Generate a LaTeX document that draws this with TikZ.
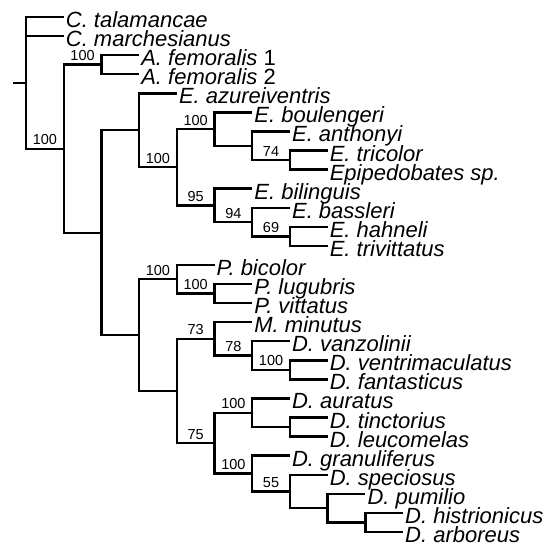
\documentclass[tikz,border=0pt]{standalone}
\usepackage{fontspec}
\setmainfont{Liberation Sans}
\begin{document}
\begin{tikzpicture}[x=1pt,y=-1pt]
        \tikzset{
          branch/.style={black,line width=2.4pt},
          taxon/.style={anchor=base west,yshift=-10.5pt,inner xsep=2pt,inner ysep=0pt,
            text height=14pt,text depth=3pt,
            font=\fontsize{22}{22}\selectfont\itshape},
          boot/.style={above,pos=0.75,inner sep=2.5pt,
            font=\fontsize{14.5}{14.5}\selectfont}
        }
\useasboundingbox (0,0) rectangle (553,547);

        %TAXA
        \path (63.7,17.0) coordinate (tal) node[taxon] (tal-t) {C. talamancae};
        \path (63.7,36.1) coordinate (mar) node[taxon] (mar-t) {C. marchesianus};
        \path (139.1,55.1) coordinate (af1) node[taxon] (af1-t) {A. femoralis \upshape 1};
        \path (139.1,74.2) coordinate (af2) node[taxon] (af2-t) {A. femoralis \upshape 2};
        \path (176.8,93.3) coordinate (azu) node[taxon] (azu-t) {E. azureiventris};
        \path (252.2,112.4) coordinate (bou) node[taxon] (bou-t) {E. boulengeri};
        \path (289.9,131.4) coordinate (ant) node[taxon] (ant-t) {E. anthonyi};
        \path (327.6,150.5) coordinate (tri) node[taxon] (tri-t) {E. tricolor};
        \path (327.6,169.6) coordinate (epi) node[taxon] (epi-t) {Epipedobates sp.};
        \path (252.2,188.6) coordinate (bil) node[taxon] (bil-t) {E. bilinguis};
        \path (289.9,207.7) coordinate (bas) node[taxon] (bas-t) {E. bassleri};
        \path (327.6,226.8) coordinate (hah) node[taxon] (hah-t) {E. hahneli};
        \path (327.6,245.8) coordinate (trv) node[taxon] (trv-t) {E. trivittatus};
        \path (214.5,264.9) coordinate (bic) node[taxon] (bic-t) {P. bicolor};
        \path (252.2,284.0) coordinate (lug) node[taxon] (lug-t) {P. lugubris};
        \path (252.2,303.1) coordinate (vit) node[taxon] (vit-t) {P. vittatus};
        \path (252.2,322.1) coordinate (mnt) node[taxon] (mnt-t) {M. minutus};
        \path (289.9,341.2) coordinate (van) node[taxon] (van-t) {D. vanzolinii};
        \path (327.6,360.3) coordinate (ven) node[taxon] (ven-t) {D. ventrimaculatus};
        \path (327.6,379.3) coordinate (fan) node[taxon] (fan-t) {D. fantasticus};
        \path (289.9,398.4) coordinate (aur) node[taxon] (aur-t) {D. auratus};
        \path (327.6,417.5) coordinate (tin) node[taxon] (tin-t) {D. tinctorius};
        \path (327.6,436.5) coordinate (leu) node[taxon] (leu-t) {D. leucomelas};
        \path (289.9,455.6) coordinate (gra) node[taxon] (gra-t) {D. granuliferus};
        \path (327.6,474.7) coordinate (spe) node[taxon] (spe-t) {D. speciosus};
        \path (365.3,493.8) coordinate (pum) node[taxon] (pum-t) {D. pumilio};
        \path (403.0,512.8) coordinate (his) node[taxon] (his-t) {D. histrionicus};
        \path (403.0,531.9) coordinate (arb) node[taxon] (arb-t) {D. arboreus};

        %INNER NODES
        \coordinate (stem) at (13,82.85);
        \coordinate (root) at (26,82.85);
        \coordinate (nall) at (63.7,148.7);
        \coordinate (nfem) at (101.4,64.65);
        \coordinate (nmain) at (101.4,232.7);
        \coordinate (nepi) at (139.1,130.25);
        \coordinate (nepi2) at (176.8,167.2);
        \coordinate (nbou) at (214.5,129.05);
        \coordinate (nant) at (252.2,145.7);
        \coordinate (ntri) at (289.9,160.05);
        \coordinate (nbil) at (214.5,205.3);
        \coordinate (nbas) at (252.2,222.0);
        \coordinate (nhah) at (289.9,236.3);
        \coordinate (npd) at (139.1,335.1);
        \coordinate (nphy) at (176.8,279.2);
        \coordinate (nlug) at (214.5,293.55);
        \coordinate (nden) at (176.8,390.95);
        \coordinate (nmin) at (214.5,338.8);
        \coordinate (nvan) at (252.2,355.5);
        \coordinate (nven) at (289.9,369.8);
        \coordinate (ndend) at (214.5,443.1);
        \coordinate (naur) at (252.2,412.7);
        \coordinate (ntin) at (289.9,427.0);
        \coordinate (ngra) at (252.2,473.5);
        \coordinate (nspe) at (289.9,491.4);
        \coordinate (npum) at (327.6,508.1);
        \coordinate (nhis) at (365.3,522.35);

        %ROOT
        \draw[branch] (stem) -- (root);
        \draw[branch] (root) |- (tal);
        \draw[branch] (root) |- (mar);
        \draw[branch] (root) |- (nall) node[boot] {100};
        \draw[branch] (nall) |- (nfem) node[boot] {100};
        \draw[branch] (nall) |- (nmain);
        \draw[branch] (nfem) |- (af1);
        \draw[branch] (nfem) |- (af2);
        \draw[branch] (nmain) |- (nepi);
        \draw[branch] (nmain) |- (npd);

        %E CLADE
        \draw[branch] (nepi) |- (azu);
        \draw[branch] (nepi) |- (nepi2) node[boot] {100};
        \draw[branch] (nepi2) |- (nbou) node[boot] {100};
        \draw[branch] (nepi2) |- (nbil) node[boot] {95};
        \draw[branch] (nbou) |- (bou);
        \draw[branch] (nbou) |- (nant);
        \draw[branch] (nant) |- (ant);
        \draw[branch] (nant) |- (ntri) node[boot] {74};
        \draw[branch] (ntri) |- (tri);
        \draw[branch] (ntri) |- (epi);
        \draw[branch] (nbil) |- (bil);
        \draw[branch] (nbil) |- (nbas) node[boot] {94};
        \draw[branch] (nbas) |- (bas);
        \draw[branch] (nbas) |- (nhah) node[boot] {69};
        \draw[branch] (nhah) |- (hah);
        \draw[branch] (nhah) |- (trv);

        %P AND D CLADE
        \draw[branch] (npd) |- (nphy) node[boot] {100};
        \draw[branch] (npd) |- (nden);
        \draw[branch] (nphy) |- (bic);
        \draw[branch] (nphy) |- (nlug) node[boot] {100};
        \draw[branch] (nlug) |- (lug);
        \draw[branch] (nlug) |- (vit);
        \draw[branch] (nden) |- (nmin) node[boot] {73};
        \draw[branch] (nden) |- (ndend) node[boot] {75};
        \draw[branch] (nmin) |- (mnt);
        \draw[branch] (nmin) |- (nvan) node[boot] {78};
        \draw[branch] (nvan) |- (van);
        \draw[branch] (nvan) |- (nven) node[boot] {100};
        \draw[branch] (nven) |- (ven);
        \draw[branch] (nven) |- (fan);
        \draw[branch] (ndend) |- (naur) node[boot] {100};
        \draw[branch] (ndend) |- (ngra) node[boot] {100};
        \draw[branch] (naur) |- (aur);
        \draw[branch] (naur) |- (ntin);
        \draw[branch] (ntin) |- (tin);
        \draw[branch] (ntin) |- (leu);
        \draw[branch] (ngra) |- (gra);
        \draw[branch] (ngra) |- (nspe) node[boot] {55};
        \draw[branch] (nspe) |- (spe);
        \draw[branch] (nspe) |- (npum);
        \draw[branch] (npum) |- (pum);
        \draw[branch] (npum) |- (nhis);
        \draw[branch] (nhis) |- (his);
        \draw[branch] (nhis) |- (arb);
    \end{tikzpicture}
\end{document}
